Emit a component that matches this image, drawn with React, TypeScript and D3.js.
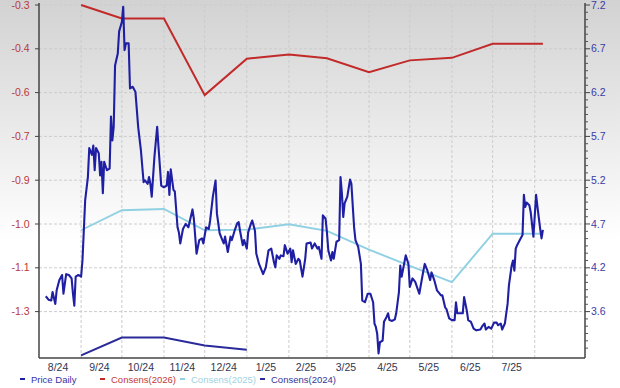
import React from "react";
import * as d3 from "d3";

const START = Date.UTC(2024, 7, 1);
const dayDate = (d: number) => new Date(START + d * 864e5);

// Price Daily: [days since 2024-08-01, price]
const priceSeries: [number, number][] = [
  [5,3.78],[7,3.74],[9,3.73],[10,3.83],[12,3.69],[13,3.85],[15,3.97],[17,4.03],[18,3.81],[20,4.04],[22,4.03],[24,3.99],[25,3.81],[26,3.67],[27,4.01],[29,4.03],[31,4.01],[32,4.20],[34,4.91],[36,5.18],[37,5.52],[39,5.44],[40,5.55],[41,5.26],[42,5.52],[44,5.46],[45,5.20],[46,5.36],[47,4.99],[48,5.36],[50,5.26],[52,5.28],[53,5.89],[54,5.61],[55,5.77],[56,6.49],[58,6.63],[59,6.89],[61,7.00],[62,7.18],[63,6.67],[64,6.75],[66,6.75],[67,6.22],[69,6.24],[71,6.18],[73,5.77],[75,5.50],[77,5.12],[78,5.14],[80,5.10],[81,5.18],[82,5.10],[83,4.95],[85,5.42],[87,5.77],[88,5.53],[90,5.08],[92,5.06],[94,5.08],[95,5.24],[96,4.97],[97,5.27],[99,5.03],[100,5.01],[102,4.59],[103,4.53],[104,4.40],[106,4.57],[108,4.63],[110,4.59],[113,4.80],[114,4.69],[116,4.28],[118,4.44],[120,4.46],[121,4.40],[123,4.59],[125,4.57],[126,4.67],[128,4.95],[130,5.14],[131,4.75],[133,4.52],[135,4.44],[136,4.40],[137,4.48],[139,4.30],[141,4.48],[142,4.44],[144,4.55],[146,4.64],[147,4.65],[148,4.55],[150,4.38],[151,4.44],[153,4.34],[154,4.53],[156,4.63],[157,4.67],[159,4.55],[160,4.28],[162,4.16],[164,4.08],[165,4.04],[167,4.12],[169,4.32],[171,4.34],[173,4.18],[174,4.12],[175,4.26],[177,4.22],[178,4.26],[180,4.25],[181,4.38],[183,4.28],[185,4.34],[186,4.18],[187,4.32],[189,4.16],[191,4.22],[192,4.20],[194,4.01],[196,4.22],[197,4.40],[200,4.41],[201,4.34],[203,4.40],[205,4.34],[206,4.36],[208,4.22],[209,4.73],[211,4.69],[212,4.53],[213,4.32],[215,4.20],[216,4.30],[217,4.22],[219,4.42],[221,4.44],[222,5.18],[223,4.99],[224,4.71],[225,4.87],[227,4.95],[229,5.15],[230,5.10],[232,4.59],[233,4.44],[235,4.36],[237,4.16],[238,3.73],[240,3.71],[242,3.81],[244,3.81],[246,3.71],[247,3.46],[248,3.42],[249,3.34],[250,3.11],[251,3.24],[253,3.26],[254,3.48],[256,3.54],[257,3.58],[258,3.50],[260,3.49],[262,3.51],[263,3.58],[265,3.83],[266,4.14],[267,4.01],[270,4.26],[272,4.16],[273,3.89],[275,3.99],[277,3.95],[280,3.81],[281,3.90],[283,4.08],[284,4.16],[286,4.08],[288,3.97],[289,4.06],[291,3.97],[293,3.85],[296,3.79],[297,3.79],[299,3.65],[300,3.63],[302,3.52],[304,3.50],[306,3.50],[307,3.71],[308,3.58],[310,3.58],[312,3.58],[313,3.77],[315,3.61],[316,3.50],[318,3.48],[320,3.40],[322,3.38],[325,3.39],[326,3.42],[328,3.46],[329,3.39],[331,3.42],[333,3.40],[335,3.47],[337,3.47],[338,3.44],[340,3.46],[341,3.39],[343,3.46],[345,3.69],[346,3.91],[348,4.14],[349,4.20],[350,4.08],[351,4.34],[352,4.38],[354,4.44],[356,4.50],[357,4.97],[358,4.83],[359,4.88],[361,4.85],[362,4.77],[364,4.48],[366,4.97],[367,4.83],[369,4.57],[370,4.46],[371,4.56]
];

const consensDates = ["2024-09-01","2024-10-01","2024-11-01","2024-12-01","2025-01-01","2025-02-01","2025-03-01","2025-04-01","2025-05-01","2025-06-01","2025-07-01","2025-08-07"];
const consens2026 = [-0.30,-0.343,-0.343,-0.588,-0.472,-0.458,-0.470,-0.515,-0.477,-0.469,-0.424,-0.424];
const consens2025 = [-1.020,-0.956,-0.952,-1.020,-1.018,-1.001,-1.022,-1.082,-1.134,-1.186,-1.031,-1.031];
const consens2024 = [-1.42,-1.363,-1.363,-1.388,-1.402];

const leftTickValues = [-0.30,-0.44,-0.58,-0.72,-0.86,-1.00,-1.14,-1.28];
const leftTickLabels = ["-0.3","-0.4","-0.6","-0.7","-0.9","-1.0","-1.1","-1.3"];
const rightTickValues = [7.2,6.686,6.171,5.657,5.143,4.629,4.114,3.6];
const rightTickLabels = ["7.2","6.7","6.2","5.7","5.2","4.7","4.2","3.6"];
const monthLabels = ["8/24","9/24","10/24","11/24","12/24","1/25","2/25","3/25","4/25","5/25","6/25","7/25"];

const legendItems = [
  { label: "Price Daily", color: "#1f1fa3", text: "#3434a8", x: 20 },
  { label: "Consens(2026)", color: "#c22a2a", text: "#c43838", x: 100 },
  { label: "Consens(2025)", color: "#8fd0e2", text: "#9fd2e2", x: 180 },
  { label: "Consens(2024)", color: "#2a2a9a", text: "#35359a", x: 260 },
];

const W = 620, H = 388;
const L = 39, R = 585, T = 5, B = 358;
const FONT = "'Liberation Sans', Arial, sans-serif";

export default function App() {
  const x = d3.scaleTime().domain([dayDate(0), dayDate(402)]).range([L, R]);
  const stepPx = 43.8;
  const yL = d3.scaleLinear().domain([-0.30, -0.30 - 0.14 * (B - T) / stepPx]).range([T, B]);
  const rStep = (7.2 - 3.6) / 7;
  const yR = d3.scaleLinear().domain([7.2, 7.2 - rStep * (B - T) / stepPx]).range([T, B]);

  const priceLine = d3.line<[number, number]>()
    .x(d => x(dayDate(d[0])))
    .y(d => yR(d[1]));
  const cLine = d3.line<[Date, number]>().x(d => x(d[0])).y(d => yL(d[1]));
  const cDates = consensDates.map(s => new Date(s + "T00:00:00Z"));
  const c26 = cDates.map((d, i) => [d, consens2026[i]] as [Date, number]);
  const c25 = cDates.map((d, i) => [d, consens2025[i]] as [Date, number]);
  const c24 = consens2024.map((v, i) => [cDates[i], v] as [Date, number]);

  const gridMonths = d3.utcMonths(dayDate(1), dayDate(395));
  const labelMonths = d3.utcMonths(dayDate(0), dayDate(365));

  const minor: number[] = [];
  for (let i = 0; ; i++) {
    const v = 7.2 - i * rStep / 6;
    if (yR(v) > B + 0.5) break;
    if (i % 6 !== 0) minor.push(v);
  }

  return (
    <svg width={W} height={H} style={{ position: "absolute", left: 0, top: 0, display: "block" }}>
      <defs>
        <linearGradient id="bg" x1="0" y1="0" x2="0" y2="1">
          <stop offset="0" stopColor="#d2d2d2" />
          <stop offset="0.62" stopColor="#ffffff" />
          <stop offset="1" stopColor="#ffffff" />
        </linearGradient>
      </defs>
      <rect x={0} y={0} width={W} height={H} fill="url(#bg)" />

      {/* grid */}
      {leftTickValues.map((v, i) => (
        <line key={"hg" + i} x1={L} x2={R} y1={yL(v)} y2={yL(v)} stroke="#cccccc" strokeWidth={1} strokeDasharray="3,2" />
      ))}
      {gridMonths.map((m, i) => (
        <line key={"vg" + i} x1={x(m)} x2={x(m)} y1={T} y2={B} stroke="#cccccc" strokeWidth={1} strokeDasharray="3,2" />
      ))}

      {/* series */}
      <path d={cLine(c25) || ""} fill="none" stroke="#8fd0e2" strokeWidth={1.9} />
      <path d={cLine(c24) || ""} fill="none" stroke="#2a2a9a" strokeWidth={2} />
      <path d={cLine(c26) || ""} fill="none" stroke="#c22a2a" strokeWidth={2} />
      <path d={priceLine(priceSeries) || ""} fill="none" stroke="#1f1fa3" strokeWidth={2.1} strokeLinejoin="round" />

      {/* axes */}
      <line x1={L} x2={L} y1={T - 2} y2={B} stroke="#444" strokeWidth={1.5} />
      <line x1={R} x2={R} y1={T - 2} y2={B} stroke="#444" strokeWidth={1.5} />
      <line x1={L} x2={R} y1={B} y2={B} stroke="#444" strokeWidth={1.5} />

      {leftTickValues.map((v, i) => (
        <g key={"lt" + i}>
          <line x1={L - 4} x2={L} y1={yL(v)} y2={yL(v)} stroke="#444" strokeWidth={1} />
          <text x={29.5} y={yL(v) + 3.6} textAnchor="end" fontFamily={FONT} fontSize={10.5} fill="#b8393a">{leftTickLabels[i]}</text>
        </g>
      ))}
      {rightTickValues.map((v, i) => (
        <g key={"rt" + i}>
          <line x1={R} x2={R + 5} y1={yR(v)} y2={yR(v)} stroke="#444" strokeWidth={1} />
          <text x={591} y={yR(v) + 3.6} textAnchor="start" fontFamily={FONT} fontSize={10.5} fill="#3b3ba6">{rightTickLabels[i]}</text>
        </g>
      ))}
      {minor.map((v, i) => (
        <line key={"mn" + i} x1={R} x2={R + 3} y1={yR(v)} y2={yR(v)} stroke="#555" strokeWidth={1} />
      ))}

      {labelMonths.map((m, i) => {
        const mid = new Date((m.getTime() + d3.utcMonth.offset(m, 1).getTime()) / 2);
        return (
          <text key={"ml" + i} x={x(mid) - 2} y={370.5} textAnchor="middle" fontFamily={FONT} fontSize={10.5} fill="#333650">{monthLabels[i]}</text>
        );
      })}

      {/* legend */}
      {legendItems.map((it, i) => (
        <g key={"lg" + i}>
          <line x1={it.x} x2={it.x + 5} y1={379} y2={379} stroke={it.color} strokeWidth={2} />
          <text x={it.x + 11} y={382.5} fontFamily={FONT} fontSize={9.5} fill={it.text}>{it.label}</text>
        </g>
      ))}
    </svg>
  );
}
